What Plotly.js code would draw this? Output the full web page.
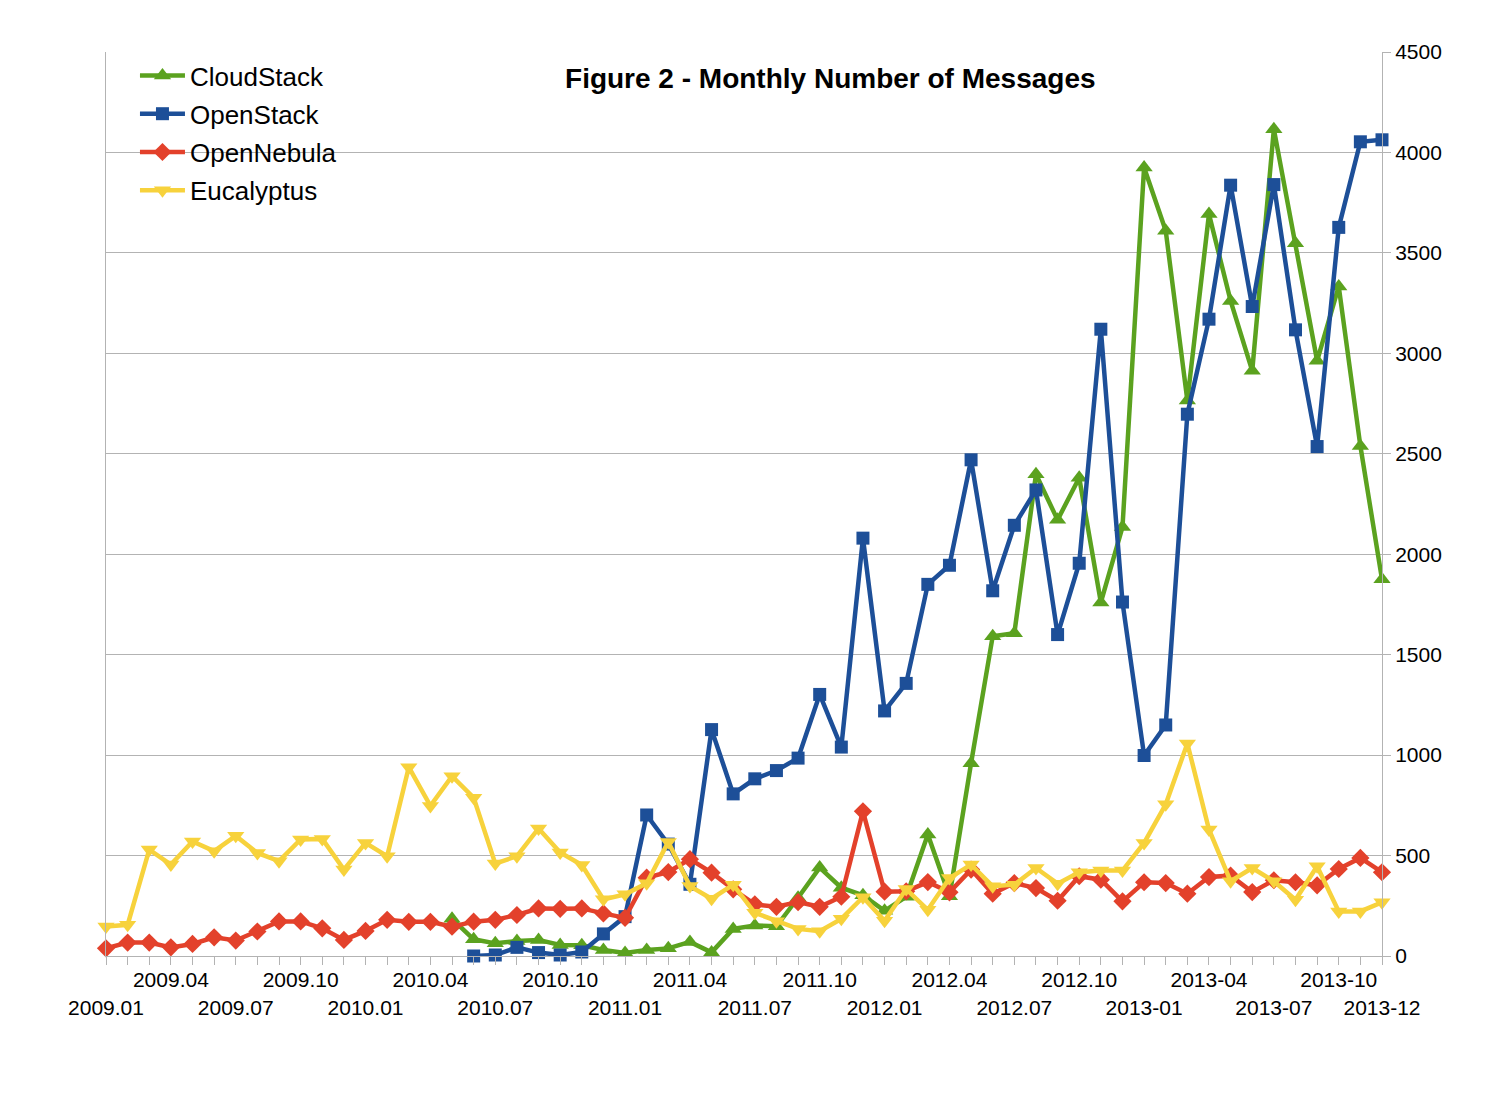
<!DOCTYPE html>
<html>
<head>
<meta charset="utf-8">
<script src="https://cdn.plot.ly/plotly-3.0.1.min.js"></script>
<style>
  html, body { margin: 0; padding: 0; background: #ffffff; }
  #chart { width: 1488px; height: 1116px; }
</style>
</head>
<body>
<div id="chart"></div>
<script>
// ---- categories: months 2009-01 .. 2013-12 ----
const years = [2009, 2010, 2011, 2012, 2013];
const months = [];
years.forEach(y => { for (let m = 1; m <= 12; m++) months.push(y + '-' + (m < 10 ? '0' + m : m)); });

// ---- tick labels (staggered in two rows) ----
const tickMonths = ['2009-01','2009-04','2009-07','2009-10','2010-01','2010-04','2010-07','2010-10',
                    '2011-01','2011-04','2011-07','2011-10','2012-01','2012-04','2012-07','2012-10',
                    '2013-01','2013-04','2013-07','2013-10','2013-12'];
const tickLabels = ['2009.01','2009.04','2009.07','2009.10','2010.01','2010.04','2010.07','2010.10',
                    '2011.01','2011.04','2011.07','2011.10','2012.01','2012.04','2012.07','2012.10',
                    '2013-01','2013-04','2013-07','2013-10','2013-12'];

// ---- series values (monthly number of messages) ----
const cloudstack = [null,null,null,null,null,null,null,null,null,null,null,null,
  null,null,null,null,185,83,63,75,80,55,53,30,
  15,30,38,70,18,135,152,148,290,440,340,302,
  225,295,605,297,960,1592,1607,2398,2171,2381,1760,2135,
  3925,3610,2765,3693,3261,2913,4116,3548,2963,3333,2539,1875];
const openstack = [null,null,null,null,null,null,null,null,null,null,null,null,
  null,null,null,null,null,0,5,43,17,5,20,110,
  196,702,557,357,1127,807,882,923,985,1302,1040,2080,
  1220,1357,1850,1945,2470,1818,2144,2320,1600,1955,3120,1762,
  998,1150,2697,3170,3837,3233,3840,3117,2536,3627,4053,4063];
const opennebula = [38,67,67,43,60,93,77,122,172,172,138,80,
  125,180,170,170,146,171,180,204,237,235,237,212,
  190,390,418,482,415,332,257,245,268,245,295,720,
  320,322,368,317,430,310,363,338,275,397,380,272,
  367,363,310,393,400,318,377,367,352,433,488,417];
const eucalyptus = [147,155,530,455,570,522,598,513,472,580,583,430,
  563,497,940,747,895,788,460,497,635,515,453,282,
  307,362,568,348,285,355,215,173,135,123,185,293,
  175,333,230,388,455,347,355,438,360,417,425,425,
  563,755,1058,630,372,438,372,280,447,222,222,267];

const seriesNames = ['CloudStack', 'OpenStack', 'OpenNebula', 'Eucalyptus'];
const seriesData = [cloudstack, openstack, opennebula, eucalyptus];
const colors = ['#5ba21f', '#1d4f98', '#e3412b', '#f7d23c'];
const symbols = ['triangle-up', 'square', 'diamond', 'triangle-down'];
const msizes = [15, 13, 14, 15];

// build tick text for every month (ticks on every month, labels every 3)
const tickText = months.map(m => {
  const k = tickMonths.indexOf(m);
  if (k < 0) return '';
  return (k % 2 === 0) ? '<br>' + tickLabels[k] : tickLabels[k];
});

const FONT = 'Liberation Sans, Arial, Helvetica, sans-serif';

const traces = seriesData.map((vals, i) => ({
  type: 'scatter',
  mode: 'lines+markers',
  name: seriesNames[i],
  legendgroup: seriesNames[i],
  x: months,
  y: vals,
  cliponaxis: false,
  connectgaps: false,
  line: { color: colors[i], width: 4.5 },
  marker: { color: colors[i], symbol: symbols[i], size: msizes[i], line: { width: 0 } }
}));

const layout = {
  width: 1488,
  height: 1116,
  margin: { l: 106, r: 106, t: 52, b: 160, pad: 0 },
  paper_bgcolor: '#ffffff',
  plot_bgcolor: '#ffffff',
  font: { family: FONT, color: '#000000', size: 21 },
  title: {
    text: 'Figure 2 - Monthly Number of Messages',
    font: { family: FONT, size: 28, weight: 'bold', color: '#000000' },
    x: 0.558, xanchor: 'center',
    y: 0.9301, yanchor: 'middle'
  },
  showlegend: true,
  legend: {
    x: 0.0227, xanchor: 'left',
    y: 1.0, yanchor: 'top',
    bgcolor: 'rgba(0,0,0,0)',
    font: { family: FONT, size: 26, color: '#000000' },
    tracegroupgap: 1.5,
    itemwidth: 45
  },
  xaxis: {
    type: 'category',
    categoryorder: 'array',
    categoryarray: months,
    range: [0, 59],
    tickmode: 'array',
    tickvals: months,
    ticktext: tickText,
    tickangle: 0,
    ticks: 'outside',
    ticklen: 8,
    ticklabelstandoff: -3,
    tickcolor: '#b3b3b3',
    showline: true,
    linecolor: '#b3b3b3',
    linewidth: 1,
    showgrid: false,
    zeroline: false,
    automargin: false,
    tickfont: { family: FONT, size: 21, color: '#000000' }
  },
  yaxis: {
    side: 'right',
    range: [0, 4500],
    tick0: 0,
    dtick: 500,
    ticks: 'outside',
    ticklen: 8,
    tickcolor: '#b3b3b3',
    showline: true,
    mirror: true,
    linecolor: '#b3b3b3',
    linewidth: 1,
    showgrid: true,
    gridcolor: '#b3b3b3',
    gridwidth: 1,
    zeroline: false,
    automargin: false,
    tickfont: { family: FONT, size: 21, color: '#000000' }
  }
};

Plotly.newPlot('chart', traces, layout, { displayModeBar: false, staticPlot: true });
</script>
</body>
</html>
